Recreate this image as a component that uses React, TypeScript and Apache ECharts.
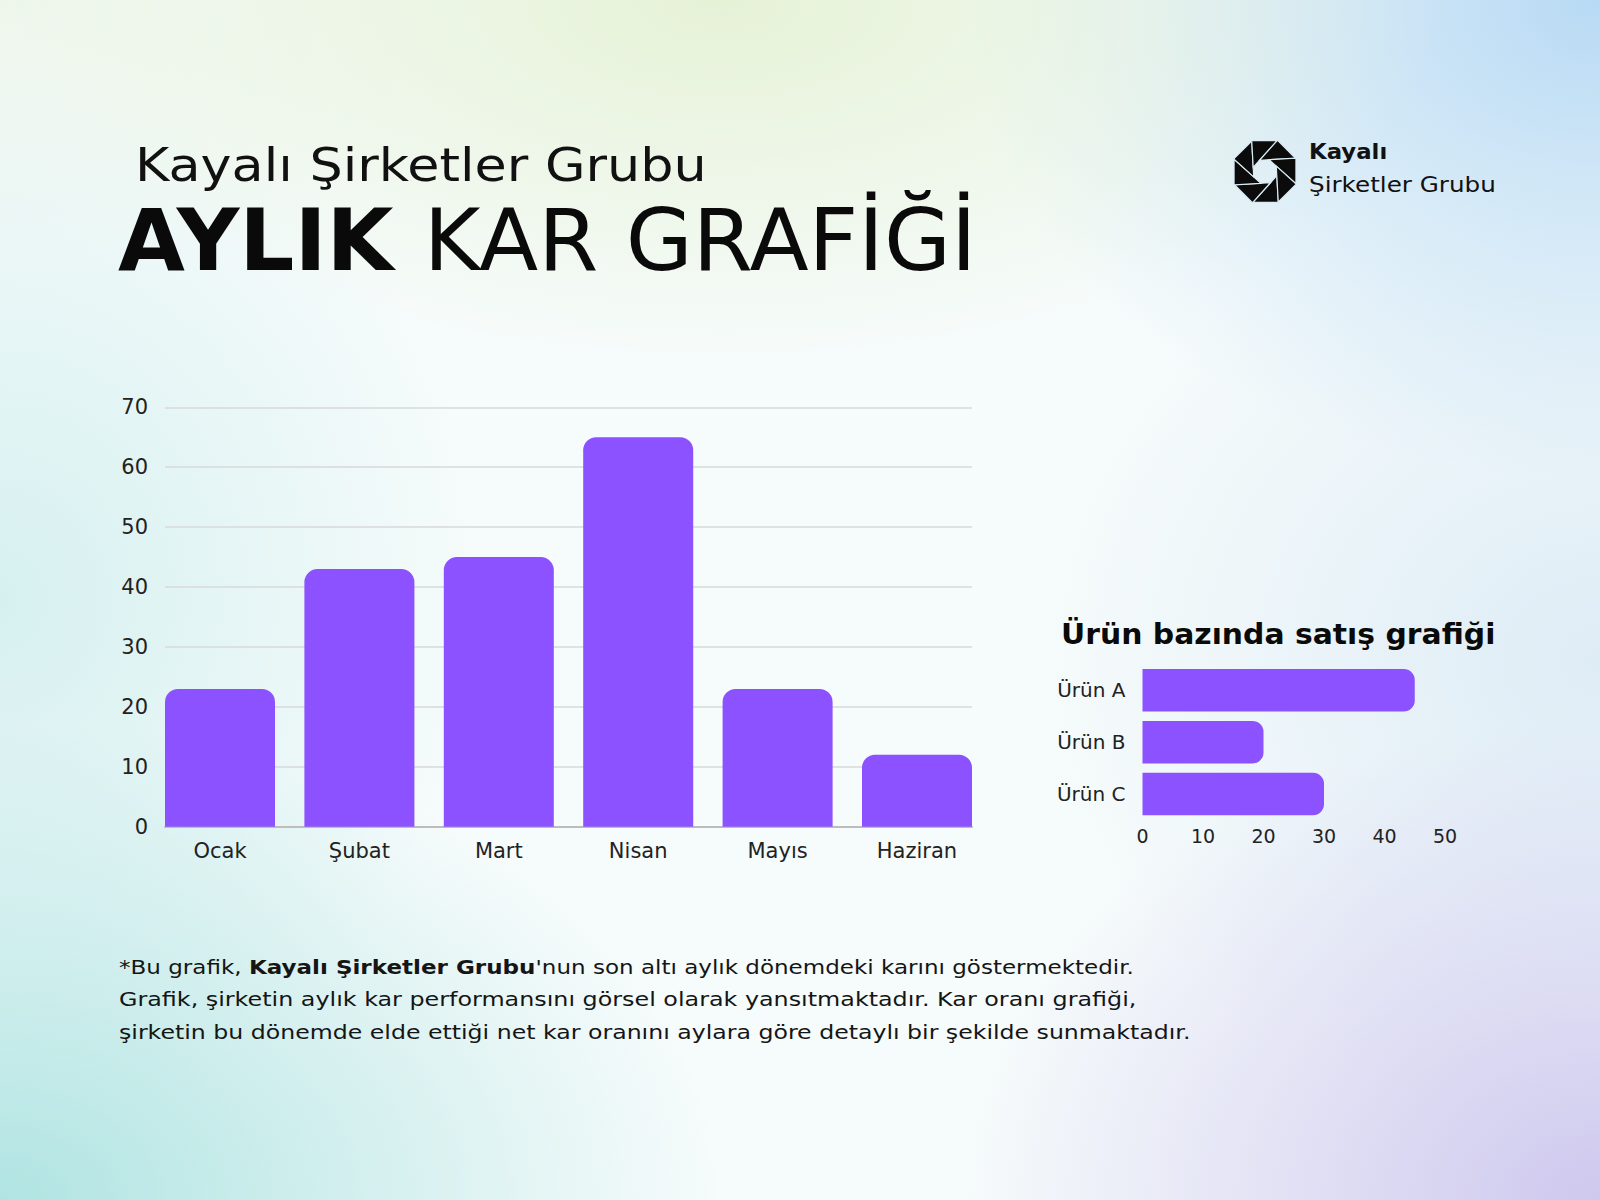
import React, { useEffect, useRef } from "react";
import * as echarts from "echarts";

const months = ["Ocak", "Şubat", "Mart", "Nisan", "Mayıs", "Haziran"];
const profit = [23, 43, 45, 65, 23, 12];
const products = ["Ürün A", "Ürün B", "Ürün C"];
const sales = [45, 20, 30];

const FONT = "DejaVu Sans";
const PURPLE = "#8C52FF";

function logoBlades(R: number, r: number, off: number): number[][][] {
  const V: number[][] = [];
  const W: number[][] = [];
  for (let j = 0; j < 8; j++) {
    const a = ((22.5 + 45 * j) * Math.PI) / 180;
    V.push([R * Math.cos(a), R * Math.sin(a)]);
    const b = ((45 * j + off) * Math.PI) / 180;
    W.push([r * Math.cos(b), r * Math.sin(b)]);
  }
  const hit = (p: number[], d: number[]) => {
    let best: { t: number; s: number; pt: number[] } | null = null;
    for (let j = 0; j < 8; j++) {
      const A = V[j];
      const B = V[(j + 1) % 8];
      const e = [B[0] - A[0], B[1] - A[1]];
      const ap = [A[0] - p[0], A[1] - p[1]];
      const det = -d[0] * e[1] + e[0] * d[1];
      if (Math.abs(det) < 1e-9) continue;
      const t = (-ap[0] * e[1] + e[0] * ap[1]) / det;
      const u = (d[0] * ap[1] - d[1] * ap[0]) / det;
      if (t > 1e-6 && u >= -1e-6 && u <= 1 + 1e-6 && (!best || t < best.t)) {
        best = { t, s: j + u, pt: [p[0] + t * d[0], p[1] + t * d[1]] };
      }
    }
    return best!;
  };
  const blades: number[][][] = [];
  for (let k = 0; k < 8; k++) {
    const Wk = W[k];
    const Wp = W[(k + 7) % 8];
    const Wn = W[(k + 1) % 8];
    const Pk = hit(Wk, [Wk[0] - Wp[0], Wk[1] - Wp[1]]);
    const Pn = hit(Wn, [Wn[0] - Wk[0], Wn[1] - Wk[1]]);
    const pts: number[][] = [Wk, Pk.pt];
    let s = Math.ceil(Pk.s + 1e-4);
    let sEnd = Pn.s;
    if (sEnd < Pk.s) sEnd += 8;
    while (s < sEnd - 1e-4) {
      pts.push(V[s % 8]);
      s++;
    }
    pts.push(Pn.pt);
    blades.push(pts);
  }
  return blades;
}

const noteLines = [
  { text: "*Bu grafik, {b|Kayalı Şirketler Grubu}'nun son altı aylık dönemdeki karını göstermektedir.", sx: 1.181 },
  { text: "Grafik, şirketin aylık kar performansını görsel olarak yansıtmaktadır. Kar oranı grafiği,", sx: 1.222 },
  { text: "şirketin bu dönemde elde ettiği net kar oranını aylara göre detaylı bir şekilde sunmaktadır.", sx: 1.213 },
];

export default function App() {
  const ref = useRef<HTMLDivElement>(null);
  useEffect(() => {
    if (!ref.current) return;
    const chart = echarts.init(ref.current, undefined, { renderer: "svg" });
    const blades = logoBlades(33.5, 12.5, 19.3);
    const option: any = {
      animation: false,
      backgroundColor: "transparent",
      textStyle: { fontFamily: FONT },
      grid: [
        { left: 165, top: 407.3, width: 807, height: 419.4 },
        { left: 150.3, top: 407.3, width: 836.4, height: 419.4 },
        { left: 1142.5, top: 664.4, width: 302.5, height: 155.5 },
      ],
      xAxis: [
        {
          gridIndex: 0,
          type: "value",
          min: 0,
          max: 1,
          axisLabel: { show: false },
          axisTick: { show: false },
          splitLine: { show: false },
          axisLine: { show: true, lineStyle: { color: "#bdbdbd", width: 2 } },
        },
        {
          gridIndex: 1,
          type: "category",
          data: months,
          axisLine: { show: false },
          axisTick: { show: false },
          axisLabel: { fontSize: 21, color: "#222", margin: 14, fontFamily: FONT },
        },
        {
          gridIndex: 2,
          type: "value",
          min: 0,
          max: 50,
          interval: 10,
          splitLine: { show: false },
          axisLine: { show: false },
          axisTick: { show: false },
          axisLabel: { fontSize: 19, color: "#222", margin: 7, fontFamily: FONT },
        },
      ],
      yAxis: [
        {
          gridIndex: 0,
          type: "value",
          min: 0,
          max: 70,
          interval: 10,
          axisLine: { show: false },
          axisTick: { show: false },
          axisLabel: { fontSize: 21, color: "#222", margin: 17, fontFamily: FONT },
          splitLine: { lineStyle: { color: "#d8d8d8", width: 1.5 } },
        },
        { gridIndex: 1, type: "value", min: 0, max: 70, show: false },
        {
          gridIndex: 2,
          type: "category",
          data: products,
          inverse: true,
          axisLine: { show: false },
          axisTick: { show: false },
          axisLabel: { fontSize: 20, color: "#222", margin: 17, fontFamily: FONT },
        },
      ],
      series: [
        {
          type: "bar",
          xAxisIndex: 1,
          yAxisIndex: 1,
          data: profit,
          barWidth: 110,
          itemStyle: { color: PURPLE, borderRadius: [13, 13, 0, 0] },
        },
        {
          type: "bar",
          xAxisIndex: 2,
          yAxisIndex: 2,
          data: sales,
          barWidth: 42.5,
          itemStyle: { color: PURPLE, borderRadius: [0, 11, 11, 0] },
        },
      ],
      graphic: [
        {
          type: "text",
          x: 135,
          y: 142,
          scaleX: 1.139,
          style: {
            text: "Kayalı Şirketler Grubu",
            fontFamily: FONT,
            fontSize: 46,
            fill: "#111",
            align: "left",
            verticalAlign: "top",
          },
        },
        {
          type: "text",
          x: 118,
          y: 197,
          scaleX: 1.006,
          style: {
            text: "{b|AYLIK }{r|KAR GRAFİĞİ}",
            align: "left",
            verticalAlign: "top",
            rich: {
              b: { fontFamily: FONT, fontWeight: 900, fontSize: 86, fill: "#0a0a0a" },
              r: { fontFamily: FONT, fontWeight: 400, fontSize: 86, fill: "#0a0a0a" },
            },
          },
        },
        {
          type: "group",
          x: 1265,
          y: 171.5,
          children: blades.map((pts) => ({
            type: "polygon",
            shape: { points: pts },
            style: { fill: "#0b0b0b", stroke: "#d9ebf3", lineWidth: 1.2, lineJoin: "miter" },
          })),
        },
        {
          type: "text",
          x: 1309,
          y: 141,
          scaleX: 1.086,
          style: {
            text: "Kayalı",
            fontFamily: FONT,
            fontWeight: "bold",
            fontSize: 21,
            fill: "#111",
            align: "left",
            verticalAlign: "top",
          },
        },
        {
          type: "text",
          x: 1309,
          y: 174,
          scaleX: 1.174,
          style: {
            text: "Şirketler Grubu",
            fontFamily: FONT,
            fontSize: 21,
            fill: "#111",
            align: "left",
            verticalAlign: "top",
          },
        },
        {
          type: "text",
          x: 1061,
          y: 620,
          scaleX: 1.066,
          style: {
            text: "Ürün bazında satış grafiği",
            fontFamily: FONT,
            fontWeight: "bold",
            fontSize: 28,
            fill: "#0a0a0a",
            align: "left",
            verticalAlign: "top",
          },
        },
        ...noteLines.map((ln, i) => ({
          type: "text",
          x: 119,
          y: 951 + i * 32.4,
          scaleX: ln.sx,
          style: {
            text: ln.text,
            fontFamily: FONT,
            fontSize: 19.5,
            lineHeight: 32.4,
            fill: "#151515",
            align: "left",
            verticalAlign: "top",
            rich: {
              b: { fontFamily: FONT, fontWeight: "bold", fontSize: 19.5, lineHeight: 32.4, fill: "#151515" },
            },
          },
        })),
      ],
    };
    chart.setOption(option);
    return () => chart.dispose();
  }, []);

  const bg = [
    "radial-gradient(ellipse 45% 30% at 45% 0%, rgba(230,242,214,1) 0%, rgba(230,242,214,0) 100%)",
    "radial-gradient(ellipse 40% 40% at 100% 0%, rgba(184,218,244,1) 0%, rgba(184,218,244,0) 100%)",
    "radial-gradient(ellipse 45% 40% at 0% 100%, rgba(176,228,226,1) 0%, rgba(176,228,226,0) 100%)",
    "radial-gradient(ellipse 40% 40% at 100% 100%, rgba(206,200,238,1) 0%, rgba(206,200,238,0) 100%)",
    "radial-gradient(ellipse 30% 45% at 0% 50%, rgba(214,240,240,1) 0%, rgba(214,240,240,0) 100%)",
    "radial-gradient(ellipse 35% 40% at 100% 55%, rgba(222,236,246,1) 0%, rgba(222,236,246,0) 100%)",
    "radial-gradient(ellipse 30% 25% at 0% 0%, rgba(238,246,236,1) 0%, rgba(238,246,236,0) 100%)",
    "#f6fbfb",
  ].join(",");

  return (
    <div
      style={{
        position: "fixed",
        left: 0,
        top: 0,
        width: 1600,
        height: 1200,
        background: bg,
      }}
    >
      <div ref={ref} style={{ width: 1600, height: 1200 }} />
    </div>
  );
}
